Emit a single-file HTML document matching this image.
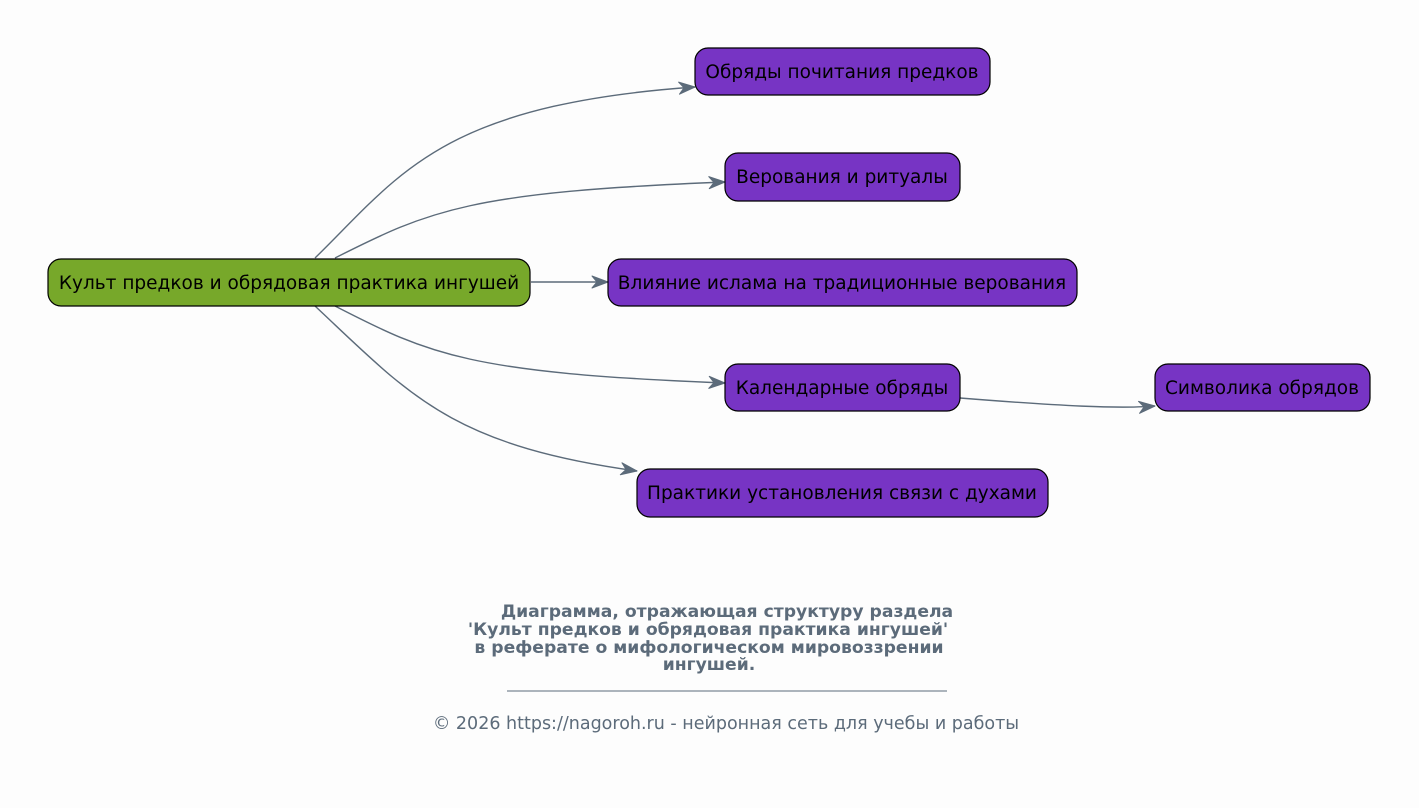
<!DOCTYPE html>
<html><head><meta charset="utf-8"><style>
body{margin:0;background:#fdfdfd;}
svg{display:block}
text{font-family:"DejaVu Sans","Liberation Sans",sans-serif;}
</style></head><body>
<svg width="1419" height="808" viewBox="0 0 1419 808" xmlns="http://www.w3.org/2000/svg">
<defs>
<marker id="a" markerWidth="20" markerHeight="14" refX="17" refY="7" orient="auto" markerUnits="userSpaceOnUse">
<path d="M1,1 L17,7 L1,13 L6,7 Z" fill="#5c6b7a" stroke="#5c6b7a" stroke-width="1" stroke-linejoin="round"/>
</marker>
</defs>
<g fill="none" stroke="#5c6b7a" stroke-width="1.4">
<path d="M315,258 C400,175 440,105 695,87" marker-end="url(#a)"/>
<path d="M335,258 C430,210 470,192 725,182" marker-end="url(#a)"/>
<path d="M531,282 L608,282" marker-end="url(#a)"/>
<path d="M335,306 C430,355 470,373 725,383" marker-end="url(#a)"/>
<path d="M315,306 C410,395 450,445 637,471" marker-end="url(#a)"/>
<path d="M960,398 C1060,406 1120,409 1155,406" marker-end="url(#a)"/>
</g>
<g stroke="#000" stroke-width="1.2">
<rect x="48" y="259" width="482" height="47" rx="13" fill="#77a82a"/>
<rect x="695" y="48" width="295" height="47" rx="13" fill="#7734c4"/>
<rect x="725" y="153" width="235" height="48" rx="13" fill="#7734c4"/>
<rect x="608" y="259" width="469" height="47" rx="13" fill="#7734c4"/>
<rect x="725" y="364" width="235" height="47" rx="13" fill="#7734c4"/>
<rect x="637" y="469" width="411" height="48" rx="13" fill="#7734c4"/>
<rect x="1155" y="364" width="215" height="47" rx="13" fill="#7734c4"/>
</g>
<g font-size="18.5" fill="#000" text-anchor="middle">
<text x="289" y="289">Культ предков и обрядовая практика ингушей</text>
<text x="842" y="78">Обряды почитания предков</text>
<text x="842" y="183">Верования и ритуалы</text>
<text x="842" y="289">Влияние ислама на традиционные верования</text>
<text x="842" y="394">Календарные обряды</text>
<text x="842" y="499">Практики установления связи с духами</text>
<text x="1262" y="394">Символика обрядов</text>
</g>
<g font-size="17.2" font-weight="bold" fill="#5c6b7a" text-anchor="middle">
<text x="727" y="617">Диаграмма, отражающая структуру раздела</text>
<text x="708" y="635">'Культ предков и обрядовая практика ингушей'</text>
<text x="709" y="653">в реферате о мифологическом мировоззрении</text>
<text x="709" y="670">ингушей.</text>
</g>
<line x1="507" y1="691" x2="947" y2="691" stroke="#5c6b7a" stroke-width="1"/>
<text x="726" y="729" font-size="17.5" fill="#5c6b7a" text-anchor="middle">© 2026 https://nagoroh.ru - нейронная сеть для учебы и работы</text>
</svg>
</body></html>
